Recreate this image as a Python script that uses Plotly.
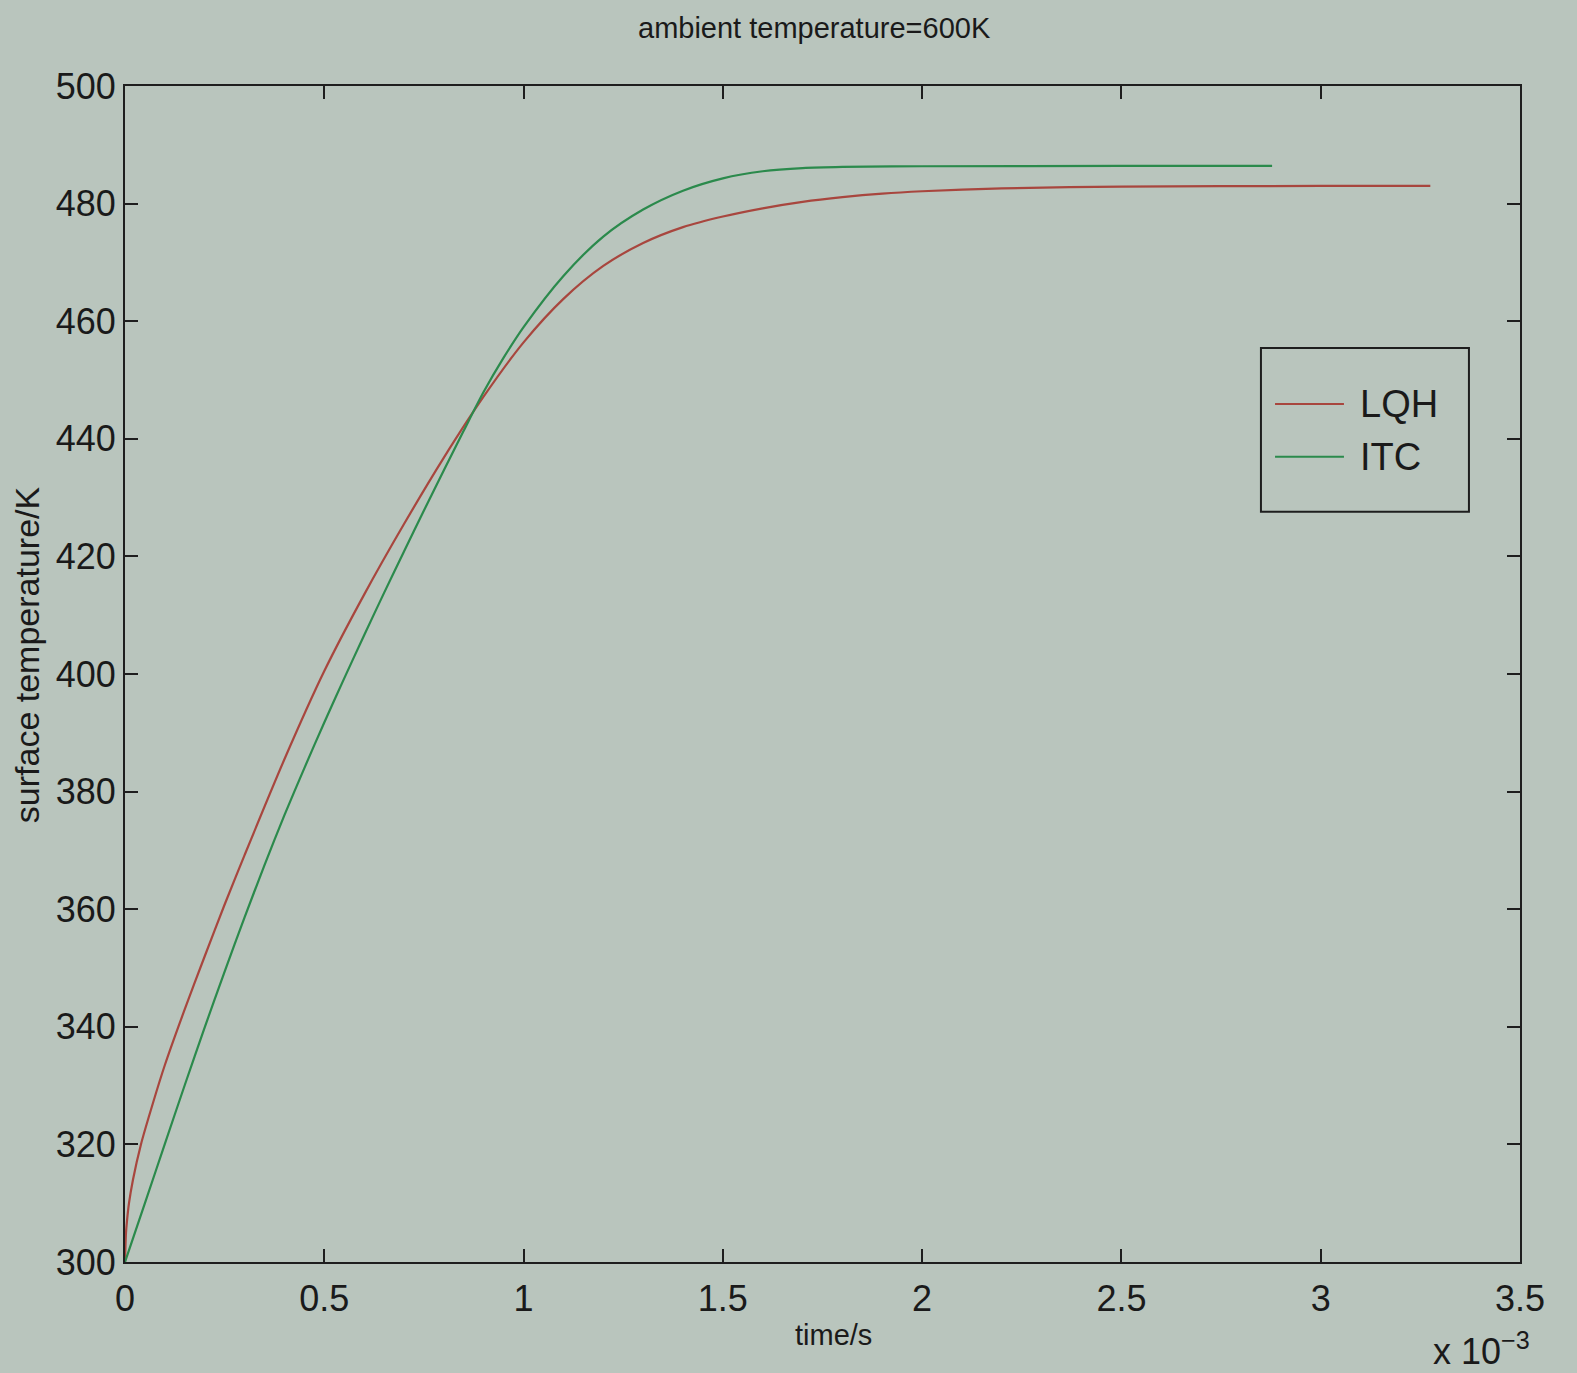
import plotly.graph_objects as go

# time in units of 1e-3 s, surface temperature in K
lqh_t = [0, 0.0025, 0.005, 0.01, 0.02, 0.04, 0.07, 0.1, 0.15, 0.2, 0.25, 0.3, 0.4, 0.5, 0.6, 0.7,
         0.8, 0.9, 1.0, 1.1, 1.2, 1.3, 1.4, 1.5, 1.6, 1.7, 1.8, 1.9, 2.0, 2.2, 2.5, 3.0, 3.275]
lqh_T = [300, 305, 307, 310, 314, 320, 327, 333.5, 343, 352, 360.8, 369.2, 385.5, 400.5, 413.5, 425.5,
         436.8, 447.2, 456.4, 463.8, 469.4, 473.3, 476.0, 477.8, 479.2, 480.3, 481.1, 481.7, 482.1,
         482.6, 482.9, 483.0, 483.0]

itc_t = [0, 0.05, 0.1, 0.15, 0.2, 0.25, 0.3, 0.35, 0.4, 0.45, 0.5, 0.55, 0.6, 0.65, 0.7, 0.75, 0.8,
         0.85, 0.9, 0.95, 1.0, 1.1, 1.2, 1.3, 1.4, 1.5, 1.6, 1.7, 1.8, 2.0, 2.5, 2.878]
itc_T = [300, 310, 320.1, 330.1, 339.9, 349.4, 358.6, 367.5, 376, 384, 391.75, 399.25, 406.6, 413.8,
         420.85, 427.8, 434.65, 441.4, 448.0, 453.8, 459.0, 467.7, 474.4, 479.0, 482.2, 484.3, 485.5,
         486.05, 486.25, 486.35, 486.4, 486.4]

series_names = ["LQH", "ITC"]
series_colors = ["#a8463e", "#2b8a4c"]

x_tickvals = [0, 0.5, 1, 1.5, 2, 2.5, 3, 3.5]
x_ticktext = ["0", "0.5", "1", "1.5", "2", "2.5", "3", "3.5"]
y_tickvals = [300, 320, 340, 360, 380, 400, 420, 440, 460, 480, 500]

bg = "#b9c5bd"
axis_col = "#1e1e1e"
txt_col = "#1a1a1a"
font_family = "Liberation Sans, Arial, sans-serif"

fig = go.Figure()
for t, T, name, col in [(lqh_t, lqh_T, series_names[0], series_colors[0]),
                        (itc_t, itc_T, series_names[1], series_colors[1])]:
    fig.add_trace(go.Scatter(x=t, y=T, mode="lines", name=name, showlegend=False,
                             line=dict(color=col, width=2.2, shape="spline", smoothing=0.8)))

axis_common = dict(showgrid=False, zeroline=False, showline=True, linecolor=axis_col, linewidth=2,
                   mirror="ticks", ticks="inside", ticklen=13, tickwidth=2, tickcolor=axis_col,
                   tickfont=dict(family=font_family, size=36, color=txt_col))

fig.update_xaxes(range=[0, 3.5], tickvals=x_tickvals, ticktext=x_ticktext, ticklabelstandoff=4,
                 **axis_common)
fig.update_yaxes(range=[300, 500], tickvals=y_tickvals, **axis_common)

# legend box drawn in paper coordinates (plot area fractions)
leg_x0, leg_x1, leg_y0, leg_y1 = 0.8143, 0.9634, 0.638, 0.7772
line_x0, line_x1, text_x = 0.8244, 0.8738, 0.8839
row_y = [0.7296, 0.6848]

shapes = [dict(type="rect", xref="paper", yref="paper", x0=leg_x0, x1=leg_x1, y0=leg_y0, y1=leg_y1,
               line=dict(color=axis_col, width=2), fillcolor=bg, layer="above")]
annotations = []
for name, col, yy in zip(series_names, series_colors, row_y):
    shapes.append(dict(type="line", xref="paper", yref="paper", x0=line_x0, x1=line_x1, y0=yy, y1=yy,
                       line=dict(color=col, width=2), layer="above"))
    annotations.append(dict(text=name, xref="paper", yref="paper", x=text_x, y=yy, showarrow=False,
                            xanchor="left", yanchor="middle",
                            font=dict(size=38, family=font_family, color=txt_col)))

annotations += [
    dict(text="ambient temperature=600K", xref="paper", yref="paper", x=0.4946, y=1,
         yshift=58, showarrow=False, font=dict(size=29), xanchor="center", yanchor="middle"),
    dict(text="time/s", xref="paper", yref="paper", x=0.508, y=0, yshift=-73,
         showarrow=False, font=dict(size=29), xanchor="center", yanchor="middle"),
    dict(text="surface temperature/K", xref="paper", yref="paper", x=0, xshift=-98, y=0.516,
         showarrow=False, font=dict(size=34), textangle=-90, xanchor="center", yanchor="middle"),
    dict(text="x 10<sup>−3</sup>", xref="paper", yref="paper", x=1, y=0, yshift=-87, xshift=12,
         showarrow=False, font=dict(size=36), xanchor="right", yanchor="middle"),
]

fig.update_layout(
    width=1577, height=1373,
    paper_bgcolor=bg, plot_bgcolor=bg,
    margin=dict(l=125, r=57, t=86, b=111, autoexpand=False),
    showlegend=False,
    font=dict(family=font_family, color=txt_col),
    shapes=shapes,
    annotations=annotations,
)

fig.write_html("out.html", config={"displayModeBar": False},
               post_script="document.body.style.margin='0';document.body.style.overflow='hidden';"
                           "document.body.style.background='#b9c5bd';")
